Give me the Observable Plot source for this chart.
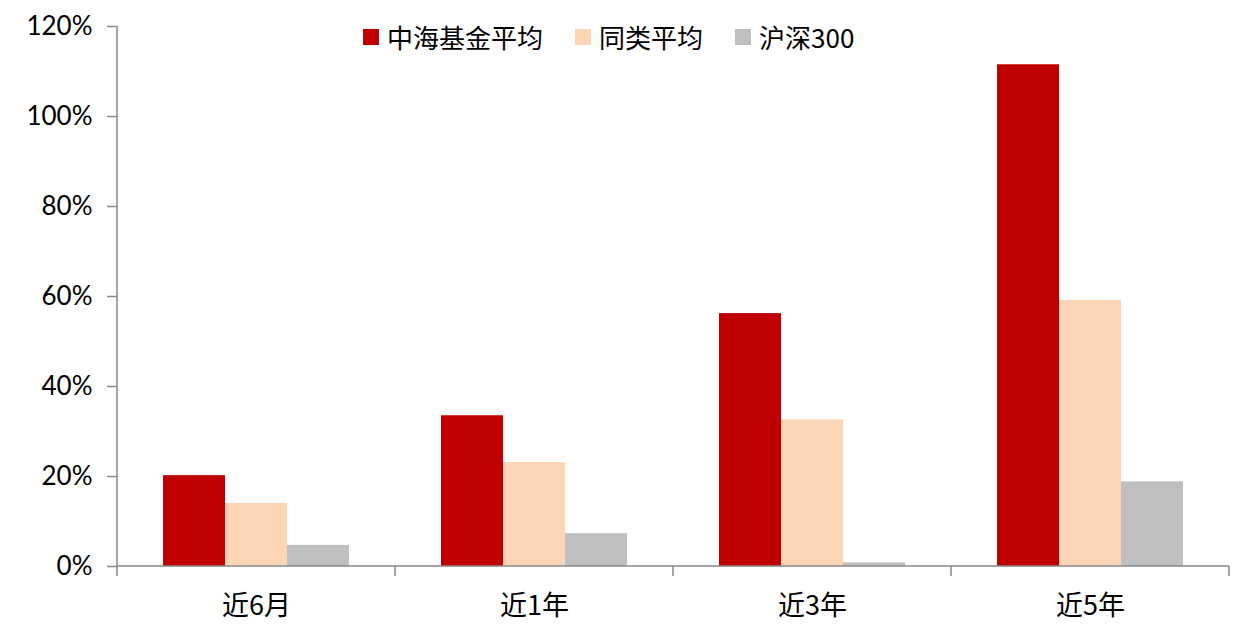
<!DOCTYPE html>
<html>
<head>
<meta charset="utf-8">
<script src="https://cdn.jsdelivr.net/npm/d3@7"></script>
<script src="https://cdn.jsdelivr.net/npm/@observablehq/plot@0.6"></script>
<style>
  html, body { margin: 0; padding: 0; background: #fff; }
  #wrap { position: relative; width: 1251px; height: 630px; }
  #legend { position: absolute; top: 18px; left: 363px; display: flex; align-items: center;
    font-family: "Noto Sans CJK SC", Lato, sans-serif; font-size: 26px; color: #000; }
  .item { display: flex; align-items: center; margin-right: 32px; }
  .sw { width: 16px; height: 16px; margin-right: 8px; }
</style>
</head>
<body>
<div id="wrap"></div>
<script>
const categories = ["近6月", "近1年", "近3年", "近5年"];
const seriesNames = ["中海基金平均", "同类平均", "沪深300"];
const colors = ["#C00000", "#FBD5B5", "#BFBFBF"];
const zhonghai = [20.2, 33.5, 56.2, 111.5];
const tonglei = [14.0, 23.1, 32.6, 59.1];
const hs300 = [4.7, 7.3, 0.8, 18.8];
const yTicks = [0, 20, 40, 60, 80, 100, 120];

const seriesValues = [zhonghai, tonglei, hs300];
const data = [];
categories.forEach((c, i) => {
  seriesNames.forEach((s, j) => data.push({cat: c, series: s, value: seriesValues[j][i]}));
});

const axisColor = "#898989";

// Draws, per facet: baseline, left boundary tick; y-axis line in first facet, right tick in last.
function axisFrame(index, scales, values, dims) {
  const g = d3.create("svg:g");
  const cat = categories[index[0]];
  const y0 = scales.y(0);
  const x0 = dims.marginLeft;
  const x1 = dims.width - dims.marginRight;
  const line = (a, b, c, d) => g.append("line").attr("x1", a).attr("y1", b).attr("x2", c).attr("y2", d)
    .attr("stroke", axisColor).attr("stroke-width", 1.5);
  line(x0, y0, x1, y0);
  line(x0, y0, x0, y0 + 10);
  if (cat === categories[categories.length - 1]) line(x1, y0, x1, y0 + 10);
  if (cat === categories[0]) line(x0, scales.y(yTicks[yTicks.length - 1]), x0, y0);
  return g.node();
}

const chart = Plot.plot({
  width: 1251,
  height: 630,
  marginLeft: 116,
  marginRight: 22,
  marginTop: 26,
  marginBottom: 64,
  style: {fontFamily: "Lato, 'Noto Sans CJK SC', sans-serif", background: "#fff"},
  fx: {domain: categories, paddingInner: 0, paddingOuter: 0, label: null},
  x: {domain: seriesNames, paddingInner: 0, paddingOuter: 0.74, axis: null},
  y: {domain: [0, 120], label: null},
  color: {domain: seriesNames, range: colors},
  marks: [
    Plot.barY(data, {fx: "cat", x: "series", y: "value", fill: "series"}),
    Plot.axisY({ticks: yTicks, tickFormat: d => d + "%", tickSize: 10, stroke: axisColor,
      strokeWidth: 1.5, fontSize: 26, fill: "#000", tickPadding: 15, label: null}),
    Plot.axisFx({anchor: "bottom", tickSize: 0, fontSize: 27, fill: "#000", tickPadding: 29, label: null,
      fontFamily: "'Noto Sans CJK SC', sans-serif"}),
    Plot.ruleY(categories.map((c, i) => i), {fx: i => categories[i], y: () => 0, render: axisFrame})
  ]
});

const wrap = document.getElementById("wrap");
wrap.appendChild(chart);

const legend = document.createElement("div");
legend.id = "legend";
seriesNames.forEach((s, j) => {
  const it = document.createElement("div");
  it.className = "item";
  const sw = document.createElement("div");
  sw.className = "sw";
  sw.style.background = colors[j];
  const t = document.createElement("span");
  t.textContent = s;
  it.appendChild(sw); it.appendChild(t);
  legend.appendChild(it);
});
wrap.appendChild(legend);
</script>
</body>
</html>
